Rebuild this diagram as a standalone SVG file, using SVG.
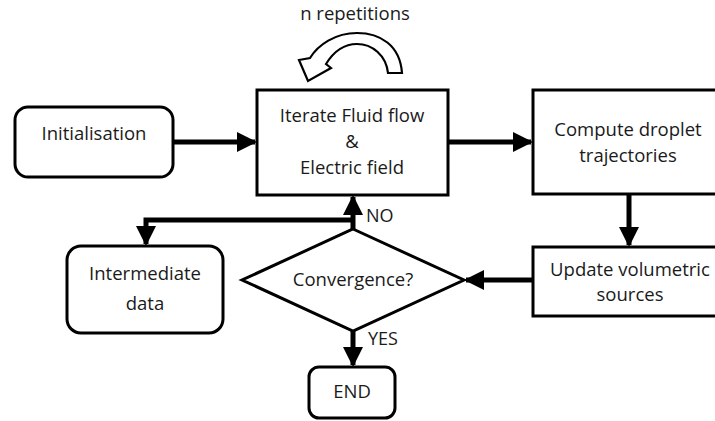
<svg xmlns="http://www.w3.org/2000/svg" width="715" height="421" viewBox="0 0 715 421">
<defs>
<marker id="ah" markerWidth="4" markerHeight="4" refX="3.6" refY="2" orient="auto" markerUnits="strokeWidth">
<path d="M0,0 L4,2 L0,4 Z" fill="#000"/>
</marker>
<style>
.box{fill:#fff;stroke:#000;stroke-width:3}
.t{font-family:"Open Sans","Liberation Sans",sans-serif;font-size:18.5px;fill:#1a1a1a;text-anchor:middle}
.lbl{font-family:"Open Sans","Liberation Sans",sans-serif;font-size:18px;fill:#1a1a1a}
.c{fill:none;stroke:#000;stroke-width:5}
</style>
</defs>
<rect width="715" height="421" fill="#fff"/>
<g id="repeat">
<text class="t" x="355" y="20">n repetitions</text>
<path d="M402 73 C400 45 380 33 357 33 C335 33 318 45 310 58 L299 60 L308 81 L331 68 L326 64 C334 51 345 44 357 44 C372 44 386 55 388 73 Z" fill="#fff" stroke="#000" stroke-width="2.2" stroke-linejoin="miter"/>
</g>
<g id="connectors">
<line class="c" x1="173" y1="142" x2="255" y2="142" marker-end="url(#ah)"/>
<line class="c" x1="448" y1="142" x2="531" y2="142" marker-end="url(#ah)"/>
<line class="c" x1="629" y1="194" x2="629" y2="245" marker-end="url(#ah)"/>
<line class="c" x1="533" y1="280" x2="466" y2="280" marker-end="url(#ah)"/>
<line class="c" x1="353" y1="229" x2="353" y2="197" marker-end="url(#ah)"/>
<polyline class="c" points="353,220 146,220 146,244" marker-end="url(#ah)"/>
<line class="c" x1="353" y1="331" x2="353" y2="365" marker-end="url(#ah)"/>
<text class="lbl" x="366" y="222">NO</text>
<text class="lbl" x="368" y="345">YES</text>
</g>
<g id="init">
<rect class="box" x="15" y="107" width="158" height="70" rx="13"/>
<text class="t" x="94" y="140">Initialisation</text>
</g>
<g id="iterate">
<rect class="box" x="257" y="90" width="191" height="105"/>
<text class="t" x="352" y="122">Iterate Fluid flow</text>
<text class="t" x="352" y="148">&amp;</text>
<text class="t" x="352" y="174">Electric field</text>
</g>
<g id="compute">
<rect class="box" x="533" y="90" width="190" height="104"/>
<text class="t" x="628" y="136">Compute droplet</text>
<text class="t" x="628" y="162">trajectories</text>
</g>
<g id="update">
<rect class="box" x="533" y="247" width="190" height="69"/>
<text class="t" x="630" y="276">Update volumetric</text>
<text class="t" x="630" y="301">sources</text>
</g>
<g id="convergence">
<polygon class="box" points="353,229 464,280 353,331 242,280" stroke-width="2.5"/>
<text class="t" x="353" y="286">Convergence?</text>
</g>
<g id="intermediate">
<rect class="box" x="67" y="246" width="156" height="87" rx="14"/>
<text class="t" x="145" y="280">Intermediate</text>
<text class="t" x="145" y="310">data</text>
</g>
<g id="end">
<rect class="box" x="309" y="367" width="86" height="51" rx="10"/>
<text class="t" x="352" y="398">END</text>
</g>
</svg>
